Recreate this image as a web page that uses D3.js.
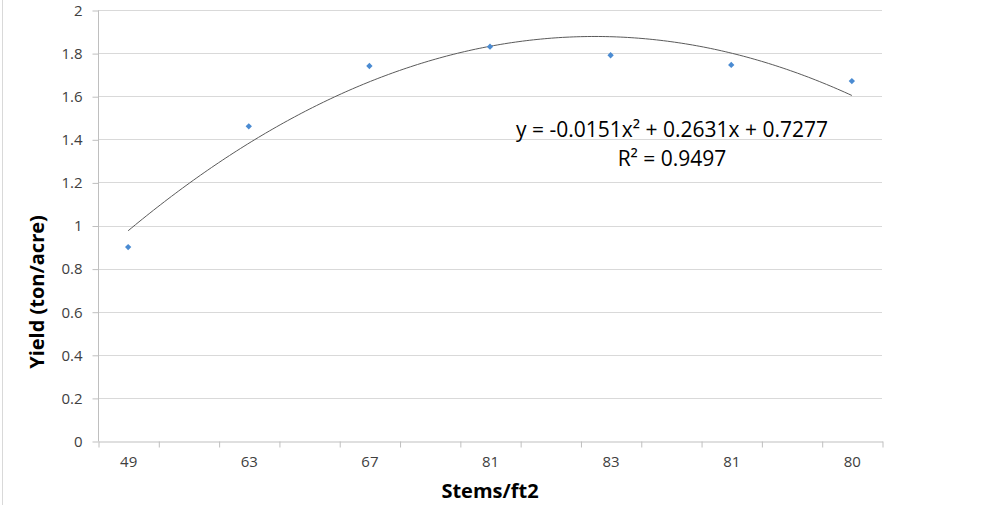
<!DOCTYPE html>
<html><head><meta charset="utf-8">
<script src="https://cdn.jsdelivr.net/npm/d3@7"></script>
<style>
body{margin:0;background:#fff;}
svg{display:block;font-family:"Open Sans",sans-serif;}
</style></head>
<body>
<svg id="chart" width="1003" height="505"></svg>
<script>
// ---- data ----
const categories = ["49","","63","","67","","81","","83","","81","","80"];
const yieldValues = [0.90,null,1.46,null,1.74,null,1.83,null,1.79,null,1.745,null,1.67];
const yTicks = [0,0.2,0.4,0.6,0.8,1,1.2,1.4,1.6,1.8,2];
const equationText = "y = -0.0151x² + 0.2631x + 0.7277";
const r2Text = "R² = 0.9497";
const xTitle = "Stems/ft2";
const yTitle = "Yield (ton/acre)";

const svg = d3.select("#chart");
const L = 98, R = 882, T = 10, B = 441;
const n = categories.length;
const x = d3.scaleLinear().domain([0.5, n + 0.5]).range([L, R]);
const y = d3.scaleLinear().domain([0, 2]).range([B, T]);

// border line at left
svg.append("line").attr("x1",2.5).attr("x2",2.5).attr("y1",0).attr("y2",505)
  .attr("stroke","#d9d9d9").attr("stroke-width",1);

// gridlines
svg.append("g").selectAll("line").data(yTicks.filter(d=>d>0)).join("line")
  .attr("x1",L).attr("x2",R)
  .attr("y1",d=>Math.round(y(d))+0.5).attr("y2",d=>Math.round(y(d))+0.5)
  .attr("stroke","#d9d9d9").attr("stroke-width",1);

// y axis
const yAxis = svg.append("g").attr("transform",`translate(${L+0.5},0.5)`)
  .call(d3.axisLeft(y).tickValues(yTicks).tickFormat(d=>d3.format("")(+d.toFixed(1))).tickSize(6).tickPadding(10));
yAxis.attr("font-size",null).attr("font-family",null);
yAxis.select(".domain").attr("stroke","#bfbfbf").attr("d",`M0,${T}V${B}`);
yAxis.selectAll(".tick line").attr("stroke","#bfbfbf");
yAxis.selectAll("text").style("font-size","15px").attr("fill","#404040").style("font-family","Open Sans");

// x axis tick marks at category boundaries
const boundaries = d3.range(0, n + 1).map(i => i + 0.5);
const xAxisTicks = svg.append("g").attr("transform",`translate(0.5,${B+0.5})`)
  .call(d3.axisBottom(x).tickValues(boundaries).tickFormat("").tickSize(6).tickSizeOuter(0));
xAxisTicks.select(".domain").attr("stroke","#bfbfbf");
xAxisTicks.selectAll(".tick line").attr("stroke","#bfbfbf");

// x labels at category centers
const centers = d3.range(1, n + 1);
const xAxisLabels = svg.append("g").attr("transform",`translate(0,${B})`)
  .call(d3.axisBottom(x).tickValues(centers).tickFormat(d=>categories[d-1]).tickSize(0).tickPadding(15));
xAxisLabels.attr("font-size",null).attr("font-family",null);
xAxisLabels.select(".domain").remove();
xAxisLabels.selectAll("text").style("font-size","15px").attr("fill","#404040").style("font-family","Open Sans");

// least-squares quadratic trendline over category index
const pts = yieldValues.map((v,i)=>({xi:i+1, v})).filter(d=>d.v!=null);
function quadFit(p){
  let s=[0,0,0,0,0], t=[0,0,0];
  p.forEach(({xi,v})=>{
    for(let k=0;k<5;k++) s[k]+=Math.pow(xi,k);
    for(let k=0;k<3;k++) t[k]+=v*Math.pow(xi,k);
  });
  const M=[[s[0],s[1],s[2],t[0]],[s[1],s[2],s[3],t[1]],[s[2],s[3],s[4],t[2]]];
  for(let i=0;i<3;i++){
    for(let j=i+1;j<3;j++){const f=M[j][i]/M[i][i];for(let k=i;k<4;k++)M[j][k]-=f*M[i][k];}
  }
  const c=[0,0,0];
  for(let i=2;i>=0;i--){let sum=M[i][3];for(let k=i+1;k<3;k++)sum-=M[i][k]*c[k];c[i]=sum/M[i][i];}
  return c;
}
const coef = quadFit(pts);
const x0 = d3.min(pts,d=>d.xi), x1 = d3.max(pts,d=>d.xi);
const curve = d3.range(0,201).map(i=>{const xv=x0+(x1-x0)*i/200;return [xv, coef[0]+coef[1]*xv+coef[2]*xv*xv];});
svg.append("path").datum(curve)
  .attr("d", d3.line().x(d=>x(d[0])).y(d=>y(d[1])))
  .attr("fill","none").attr("stroke","#5a5a5a").attr("stroke-width",1);

// points
svg.append("g").selectAll("path").data(pts).join("path")
  .attr("d", d3.symbol(d3.symbolSquare, 20))
  .attr("transform", d=>`translate(${x(d.xi)},${y(d.v)}) rotate(45)`)
  .attr("fill","#4a8bd2");

// equation
svg.append("text").attr("x",672).attr("y",137).attr("text-anchor","middle")
  .attr("font-size","21px").attr("fill","#000").text(equationText);
svg.append("text").attr("x",672).attr("y",166).attr("text-anchor","middle")
  .attr("font-size","21px").attr("fill","#000").text(r2Text);

// axis titles
svg.append("text").attr("x",490).attr("y",498).attr("text-anchor","middle")
  .attr("font-size","20px").attr("font-weight","bold").attr("fill","#000").text(xTitle);
svg.append("text").attr("transform","translate(44,292) rotate(-90)").attr("text-anchor","middle")
  .attr("font-size","20px").attr("font-weight","bold").attr("fill","#000").text(yTitle);
</script>
</body></html>
